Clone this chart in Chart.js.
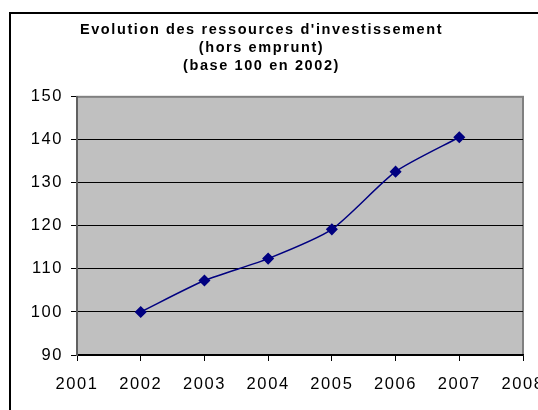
<!DOCTYPE html>
<html>
<head>
<meta charset="utf-8">
<script src="https://cdn.jsdelivr.net/npm/chart.js@4/dist/chart.umd.min.js"></script>
<style>
  html, body { margin: 0; padding: 0; background: #fff; overflow: hidden; width: 538px; height: 410px; }
  #frame { position: absolute; left: 9px; top: 12px; width: 600px; height: 500px; border-top: 2px solid #000; border-left: 2px solid #000; }
  #c { position: absolute; left: 0; top: 0; }
</style>
</head>
<body>
<div id="frame"></div>
<canvas id="c" width="560" height="410"></canvas>
<script>
const titleLines = ["Evolution des ressources d'investissement", "(hors emprunt)", "(base 100 en 2002)"];
const years = [2002, 2003, 2004, 2005, 2006, 2007];
const values = [100, 107.3, 112.4, 119.2, 132.6, 140.6];
const xRange = [2001, 2008];
const yRange = [90, 150];
const yStep = 10;

const FONT = "'Liberation Sans', Arial, sans-serif";

const plotBg = {
  id: 'plotBg',
  afterInit(chart) {
    const tb = chart.titleBlock;
    if (tb) {
      const orig = tb.draw.bind(tb);
      tb.draw = function () {
        const ctx = chart.ctx;
        const prev = ctx.letterSpacing;
        ctx.letterSpacing = '1.6px';
        orig();
        ctx.letterSpacing = prev;
      };
    }
  },
  beforeUpdate(chart) { chart.ctx.letterSpacing = '1.6px'; },
  beforeDraw(chart) {
    const ctx = chart.ctx;
    ctx.letterSpacing = '1.6px';
    const a = chart.chartArea;
    ctx.save();
    ctx.fillStyle = '#C0C0C0';
    ctx.fillRect(a.left, a.top, a.right - a.left, a.bottom - a.top);
    ctx.strokeStyle = '#808080';
    ctx.lineWidth = 2;
    ctx.strokeRect(a.left, a.top, a.right - a.left, a.bottom - a.top);
    ctx.restore();
  }
};

new Chart(document.getElementById('c'), {
  type: 'line',
  data: {
    datasets: [{
      data: years.map((y, i) => ({ x: y, y: values[i] })),
      borderColor: '#000080',
      backgroundColor: '#000080',
      borderWidth: 1.5,
      tension: 0.22,
      pointStyle: 'rectRot',
      pointRadius: 5,
      pointBackgroundColor: '#000080',
      pointBorderColor: '#000080',
      fill: false
    }]
  },
  options: {
    responsive: false,
    animation: false,
    devicePixelRatio: 1,
    layout: { padding: { left: 0, right: 37, top: 0, bottom: 0 } },
    plugins: {
      legend: { display: false },
      tooltip: { enabled: false },
      title: {
        display: true,
        text: titleLines,
        color: '#000',
        font: { family: FONT, size: 14.5, weight: '700', lineHeight: 1.26 },
        padding: { top: 20.5, bottom: 21.5 }
      }
    },
    scales: {
      x: {
        type: 'linear',
        min: xRange[0],
        max: xRange[1],
        afterFit(s) { s.height = 55; },
        ticks: {
          stepSize: 1,
          color: '#000',
          padding: 13.5,
          maxRotation: 0,
          font: { family: FONT, size: 16.5 },
          callback: v => String(v)
        },
        grid: { drawOnChartArea: false, drawTicks: true, tickLength: 6, tickColor: '#000', lineWidth: 1 },
        border: { display: true, color: '#000', width: 1.5 }
      },
      y: {
        min: yRange[0],
        max: yRange[1],
        afterFit(s) { s.width = 77; },
        ticks: {
          stepSize: yStep,
          color: '#000',
          padding: 8,
          font: { family: FONT, size: 16.5 }
        },
        grid: {
          color: ctx => (ctx.tick && ctx.tick.value === yRange[1]) ? '#808080' : '#000',
          lineWidth: 1,
          drawTicks: true,
          tickLength: 6,
          tickColor: '#000'
        },
        border: { display: true, color: '#606060', width: 2 }
      }
    }
  },
  plugins: [plotBg]
});
</script>
</body>
</html>
